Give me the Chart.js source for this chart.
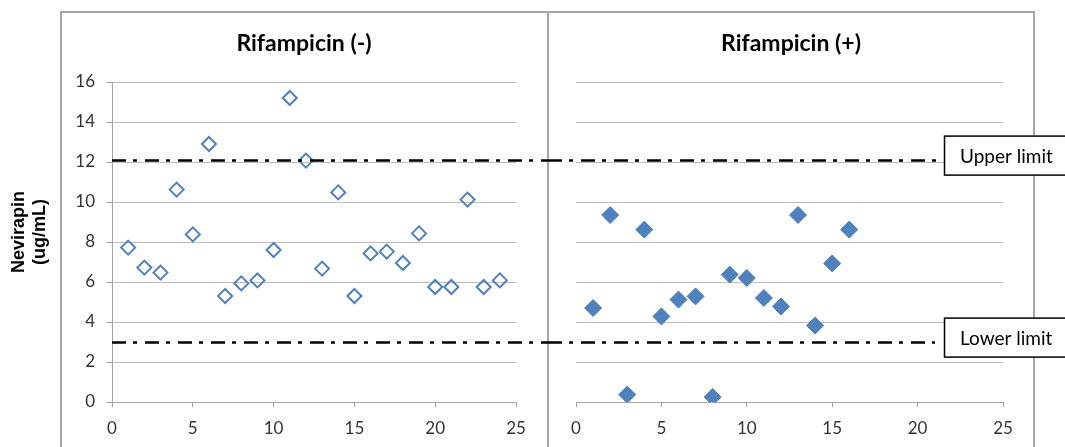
<!DOCTYPE html>
<html>
<head>
<meta charset="utf-8">
<script src="https://cdn.jsdelivr.net/npm/chart.js@4/dist/chart.umd.min.js"></script>
<style>
  body { margin: 0; background: #fff; }
  #wrap { position: relative; width: 1065px; height: 447px; overflow: hidden; background: #fff; }
  #frame { position: absolute; left: 60px; top: 11px; width: 971px; height: 470px; border: 2px solid #a6a6a6; }
  #divider { position: absolute; left: 547px; top: 11px; width: 2px; height: 440px; background: #a6a6a6; }
  canvas { position: absolute; top: 0; }
</style>
</head>
<body>
<div id="wrap">
  <div id="frame"></div>
  <div id="divider"></div>
  <canvas id="leftChart" width="548" height="447" style="left:0"></canvas>
  <canvas id="rightChart" width="517" height="447" style="left:548px"></canvas>
</div>
<script>
// Rifampicin (-) : patient number vs nevirapine level
const minusX = [1, 2, 3, 4, 5, 6, 7, 8, 9, 10, 11, 12, 13, 14, 15, 16, 17, 18, 19, 20, 21, 22, 23, 24];
const minusY = [7.72, 6.72, 6.47, 10.62, 8.38, 12.9, 5.3, 5.93, 6.08, 7.6, 15.2, 12.07, 6.67, 10.48, 5.3, 7.43, 7.52, 6.95, 8.43, 5.75, 5.75, 10.12, 5.75, 6.08];

// Rifampicin (+)
const plusX = [1, 2, 3, 4, 5, 6, 7, 8, 9, 10, 11, 12, 13, 14, 15, 16];
const plusY = [4.7, 9.35, 0.37, 8.62, 4.28, 5.12, 5.28, 0.25, 6.37, 6.2, 5.2, 4.78, 9.35, 3.82, 6.93, 8.62];

// therapeutic range
const upperLimit = 12.07;
const lowerLimit = 2.97;
const limitNames = ["Upper limit", "Lower limit"];

const xMin = 0, xMax = 25, xStep = 5;
const yMin = 0, yMax = 16, yStep = 2;

const blue = "#4f81bd";
const gridColor = "#bdbdbd";
const axisColor = "#a6a6a6";
const tickFont = { family: "Lato", size: 17 };

Chart.defaults.font.family = "Lato";

function toPoints(xs, ys) {
  return xs.map((x, i) => ({ x: x, y: ys[i] }));
}

// draws panel title, y title, limit lines and their boxes
const decorPlugin = {
  id: "decor",
  afterDatasetsDraw(chart, args, opts) {
    const ctx = chart.ctx;
    const y = chart.scales.y;
    ctx.save();

    // dash-dot limit lines
    ctx.strokeStyle = "#000";
    ctx.lineWidth = 2.5;
    ctx.setLineDash([14, 7, 4, 8]);
    opts.limits.forEach(l => {
      const py = y.getPixelForValue(l.value);
      ctx.beginPath();
      ctx.moveTo(opts.lineStart, py);
      ctx.lineTo(l.end, py);
      ctx.stroke();
    });
    ctx.setLineDash([]);

    // label boxes
    if (opts.boxes) {
      opts.limits.forEach((l, i) => {
        const py = y.getPixelForValue(l.value) - 5;
        ctx.fillStyle = "#fff";
        ctx.fillRect(opts.boxLeft, py - 20, 140, 40);
        ctx.strokeStyle = "#000";
        ctx.lineWidth = 1.5;
        ctx.strokeRect(opts.boxLeft + 0.5, py - 19.5, 140, 39);
        ctx.fillStyle = "#000";
        ctx.font = "19px Lato";
        ctx.textAlign = "left";
        ctx.textBaseline = "middle";
        ctx.fillText(limitNames[i], opts.boxLeft + 16, py + 1);
      });
    }

    // panel title
    ctx.fillStyle = "#000";
    ctx.font = "bold 23px Lato";
    ctx.textAlign = "center";
    ctx.textBaseline = "middle";
    ctx.fillText(opts.title, opts.titleX, 44);

    // y axis title
    if (opts.yTitle) {
      ctx.translate(29, 232);
      ctx.rotate(-Math.PI / 2);
      ctx.font = "bold 18px 'Liberation Sans'";
      ctx.fillText(opts.yTitle[0], 0, -10);
      ctx.fillText(opts.yTitle[1], 0, 11);
    }
    ctx.restore();
  }
};

function xScale() {
  return {
    type: "linear",
    min: xMin,
    max: xMax,
    afterFit: s => { s.height = 45; },
    ticks: { stepSize: xStep, color: "#333", font: tickFont, padding: 11 },
    grid: { drawOnChartArea: false, drawTicks: true, tickLength: 5, color: axisColor },
    border: { display: true, color: axisColor, width: 1 }
  };
}

// left panel
new Chart(document.getElementById("leftChart"), {
  type: "scatter",
  data: {
    datasets: [{
      label: "Rifampicin (-)",
      data: toPoints(minusX, minusY),
      pointStyle: "rectRot",
      pointRadius: 7,
      pointBorderWidth: 2,
      pointBorderColor: blue,
      pointBackgroundColor: "rgba(0,0,0,0)"
    }]
  },
  options: {
    responsive: false,
    animation: false,
    layout: { padding: { left: 0, right: 32, top: 82, bottom: 0 } },
    plugins: {
      legend: { display: false },
      tooltip: { enabled: false },
      decor: {
        title: "Rifampicin (-)",
        titleX: 304,
        yTitle: ["Nevirapin", "(ug/mL)"],
        lineStart: 112,
        limits: [{ value: upperLimit, end: 548 }, { value: lowerLimit, end: 548 }]
      }
    },
    scales: {
      x: xScale(),
      y: {
        min: yMin,
        max: yMax,
        afterFit: s => { s.width = 112; },
        ticks: { stepSize: yStep, color: "#333", font: tickFont, padding: 11 },
        grid: { color: gridColor, tickLength: 6, tickColor: axisColor },
        border: { display: true, color: axisColor, width: 1 }
      }
    }
  },
  plugins: [decorPlugin]
});

// right panel
new Chart(document.getElementById("rightChart"), {
  type: "scatter",
  data: {
    datasets: [{
      label: "Rifampicin (+)",
      data: toPoints(plusX, plusY),
      pointStyle: "rectRot",
      pointRadius: 8.5,
      pointBorderWidth: 1,
      pointBorderColor: "#4a7ebb",
      pointBackgroundColor: blue
    }]
  },
  options: {
    responsive: false,
    animation: false,
    layout: { padding: { left: 0, right: 62, top: 82, bottom: 0 } },
    plugins: {
      legend: { display: false },
      tooltip: { enabled: false },
      decor: {
        title: "Rifampicin (+)",
        titleX: 243,
        lineStart: 0,
        boxes: true,
        boxLeft: 396,
        limits: [{ value: upperLimit, end: 394 }, { value: lowerLimit, end: 387 }]
      }
    },
    scales: {
      x: xScale(),
      y: {
        min: yMin,
        max: yMax,
        afterFit: s => { s.width = 28; },
        ticks: { stepSize: yStep, display: false },
        grid: { color: gridColor, drawTicks: false },
        border: { display: false }
      }
    }
  },
  plugins: [decorPlugin]
});
</script>
</body>
</html>
